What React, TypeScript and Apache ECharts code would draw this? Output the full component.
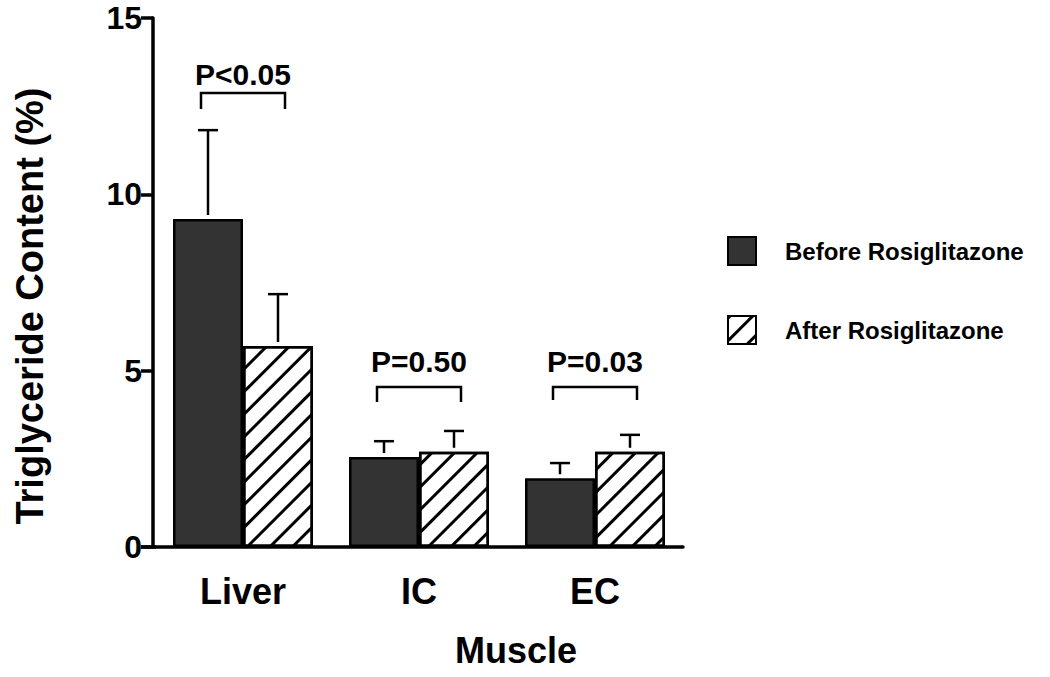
import React, { useEffect, useRef } from "react";
import * as echarts from "echarts";

const categories = ["Liver", "IC", "EC"];
const seriesNames = ["Before Rosiglitazone", "After Rosiglitazone"];
const beforeValues = [9.3, 2.55, 1.95];
const afterValues = [5.7, 2.7, 2.7];
const beforeErrTop = [11.82, 3.0, 2.38];
const afterErrTop = [7.17, 3.29, 3.18];
const pLabels = ["P<0.05", "P=0.50", "P=0.03"];
const bracketTop = [12.87, 4.54, 4.54];
const bracketBottom = [12.42, 4.11, 4.17];
const pLabelY = [13.41, 5.27, 5.27];
const yMin = 0;
const yMax = 15;
const yInterval = 5;

const FONT = "'Liberation Sans', Arial, Helvetica, sans-serif";
const BAR_WIDTH = 70;

function errorRender(offsetSign: number) {
  return (params: any, api: any) => {
    const base = api.coord([api.value(0), api.value(1)]);
    const top = api.coord([api.value(0), api.value(2)]);
    const x = base[0] + (offsetSign * BAR_WIDTH) / 2;
    const style = { stroke: "#000", lineWidth: 2.5 };
    return {
      type: "group",
      children: [
        { type: "line", shape: { x1: x, y1: base[1] - 4, x2: x, y2: top[1] }, style },
        { type: "line", shape: { x1: x - 10, y1: top[1], x2: x + 10, y2: top[1] }, style },
      ],
    };
  };
}

export default function App() {
  const ref = useRef<HTMLDivElement>(null);
  useEffect(() => {
    if (!ref.current) return;
    const chart = echarts.init(ref.current, undefined, { renderer: "svg" });
    const option: any = {
      animation: false,
      backgroundColor: "#fff",
      textStyle: { fontFamily: FONT },
      grid: { left: 155, right: 367, top: 18, bottom: 130, containLabel: false },
      legend: {
        orient: "vertical",
        left: 727,
        top: 236,
        itemWidth: 28,
        itemHeight: 28,
        itemGap: 49,
        padding: 0,
        icon: "rect",
        data: seriesNames,
        textStyle: { fontFamily: FONT, fontWeight: "bold", fontSize: 24, color: "#000", padding: [0, 0, 0, 24] },
      },
      xAxis: {
        type: "category",
        data: categories,
        axisLine: { show: true, lineStyle: { color: "#000", width: 3.5 } },
        axisTick: { show: false },
        axisLabel: { color: "#000", fontFamily: FONT, fontWeight: "bold", fontSize: 36, margin: 26 },
        splitLine: { show: false },
      },
      yAxis: {
        type: "value",
        min: yMin,
        max: yMax,
        interval: yInterval,
        offset: 2,
        axisLine: { show: true, lineStyle: { color: "#000", width: 3.5 } },
        axisTick: { show: true, inside: false, length: 12, lineStyle: { color: "#000", width: 3.5 } },
        axisLabel: { color: "#000", fontFamily: FONT, fontWeight: "bold", fontSize: 32, margin: 11 },
        splitLine: { show: false },
      },
      graphic: [
        {
          type: "text",
          x: 30,
          y: 306,
          rotation: Math.PI / 2,
          style: {
            text: "Triglyceride Content (%)",
            font: `bold 38px ${FONT}`,
            fill: "#000",
            align: "center",
            verticalAlign: "middle",
          },
        },
        {
          type: "text",
          x: 516,
          y: 650,
          style: {
            text: "Muscle",
            font: `bold 36px ${FONT}`,
            fill: "#000",
            align: "center",
            verticalAlign: "middle",
          },
        },
        {
          type: "line",
          shape: { x1: 141, y1: 547, x2: 156, y2: 547 },
          style: { stroke: "#000", lineWidth: 3.5 },
        },
      ],
      series: [
        {
          name: seriesNames[0],
          type: "bar",
          data: beforeValues,
          barWidth: BAR_WIDTH,
          barGap: "0%",
          itemStyle: { color: "#333333", borderColor: "#000", borderWidth: 2.5 },
        },
        {
          name: seriesNames[1],
          type: "bar",
          data: afterValues,
          barWidth: BAR_WIDTH,
          barGap: "0%",
          itemStyle: {
            color: "#ffffff",
            borderColor: "#000",
            borderWidth: 2.5,
            decal: {
              symbol: "rect",
              symbolSize: 1,
              color: "#000",
              dashArrayX: [1, 0],
              dashArrayY: [2.5, 12.5],
              rotation: -Math.PI / 4,
            },
          },
        },
        {
          type: "custom",
          renderItem: errorRender(-1),
          data: categories.map((_, i) => [i, beforeValues[i], beforeErrTop[i]]),
          z: 5,
          silent: true,
        },
        {
          type: "custom",
          renderItem: errorRender(1),
          data: categories.map((_, i) => [i, afterValues[i], afterErrTop[i]]),
          z: 5,
          silent: true,
        },
        {
          type: "custom",
          z: 5,
          silent: true,
          data: categories.map((_, i) => [i, bracketTop[i], bracketBottom[i], pLabelY[i]]),
          renderItem: (params: any, api: any) => {
            const i = params.dataIndex;
            const t = api.coord([api.value(0), api.value(1)]);
            const b = api.coord([api.value(0), api.value(2)]);
            const lab = api.coord([api.value(0), api.value(3)]);
            const half = BAR_WIDTH * 0.6;
            const cx = t[0];
            return {
              type: "group",
              children: [
                {
                  type: "polyline",
                  shape: {
                    points: [
                      [cx - half, b[1]],
                      [cx - half, t[1]],
                      [cx + half, t[1]],
                      [cx + half, b[1]],
                    ],
                  },
                  style: { stroke: "#000", lineWidth: 2.5, fill: "none" },
                },
                {
                  type: "text",
                  x: cx,
                  y: lab[1],
                  style: {
                    text: pLabels[i],
                    font: `bold 30px ${FONT}`,
                    fill: "#000",
                    align: "center",
                    verticalAlign: "middle",
                  },
                },
              ],
            };
          },
        },
      ],
    };
    chart.setOption(option);
    return () => chart.dispose();
  }, []);
  return (
    <div
      ref={ref}
      style={{ position: "fixed", left: 0, top: 0, width: 1050, height: 677, background: "#fff" }}
    />
  );
}
